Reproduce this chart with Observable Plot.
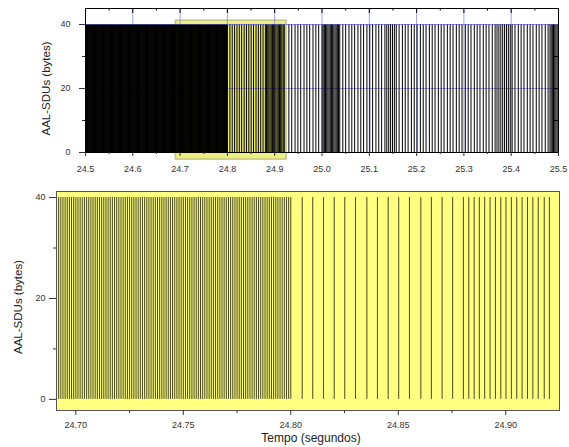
<!DOCTYPE html>
<html>
<head>
<meta charset="utf-8">
<script src="https://cdn.jsdelivr.net/npm/d3@7"></script>
<script src="https://cdn.jsdelivr.net/npm/@observablehq/plot@0.6"></script>
<style>
  html, body { margin: 0; padding: 0; background: #fff; }
  #chart { position: relative; width: 569px; height: 447px; overflow: hidden; }
  #top, #bottom { position: absolute; left: 0; }
  #top { top: 0; }
  #bottom { top: 180px; }
</style>
</head>
<body>
<div id="chart"><div id="top"></div><div id="bottom"></div></div>
<script>
// Arrival times of AAL-SDUs (milliseconds)
const tempoMs = [
24500,24501,24502,24503,24504,24505,24506,24507,24508,24509,24510,24511,24512,24513,24514,24515,24516,24517,24518,24519,
24520,24521,24522,24523,24524,24525,24526,24527,24528,24529,24530,24531,24532,24533,24534,24535,24536,24537,24538,24539,
24540,24541,24542,24543,24544,24545,24546,24547,24548,24549,24550,24551,24552,24553,24554,24555,24556,24557,24558,24559,
24560,24561,24562,24563,24564,24565,24566,24567,24568,24569,24570,24571,24572,24573,24574,24575,24576,24577,24578,24579,
24580,24581,24582,24583,24584,24585,24586,24587,24588,24589,24590,24591,24592,24593,24594,24595,24596,24597,24598,24599,
24600,24601,24602,24603,24604,24605,24606,24607,24608,24609,24610,24611,24612,24613,24614,24615,24616,24617,24618,24619,
24620,24621,24622,24623,24624,24625,24626,24627,24628,24629,24630,24631,24632,24633,24634,24635,24636,24637,24638,24639,
24640,24641,24642,24643,24644,24645,24646,24647,24648,24649,24650,24651,24652,24653,24654,24655,24656,24657,24658,24659,
24660,24661,24662,24663,24664,24665,24666,24667,24668,24669,24670,24671,24672,24673,24674,24675,24676,24677,24678,24679,
24680,24681,24682,24683,24684,24685,24686,24687,24688,24689,24690,24691,24692,24693,24694,24695,24696,24697,24698,24699,
24700,24701,24702,24703,24704,24705,24706,24707,24708,24709,24710,24711,24712,24713,24714,24715,24716,24717,24718,24719,
24720,24721,24722,24723,24724,24725,24726,24727,24728,24729,24730,24731,24732,24733,24734,24735,24736,24737,24738,24739,
24740,24741,24742,24743,24744,24745,24746,24747,24748,24749,24750,24751,24752,24753,24754,24755,24756,24757,24758,24759,
24760,24761,24762,24763,24764,24765,24766,24767,24768,24769,24770,24771,24772,24773,24774,24775,24776,24777,24778,24779,
24780,24781,24782,24783,24784,24785,24786,24787,24788,24789,24790,24791,24792,24793,24794,24795,24796,24797,24798,24799,
24800,
24805.3,24810.2,24815.2,24820.2,24825.1,24830.1,24835.4,24840.3,24845.3,24850.2,24855.2,24860.5,24865.4,24870.4,24875.3,
24880.3,24882.8,24885.3,24887.7,24890.2,24892.7,24895.2,24897.7,24900.1,24902.6,24905.1,24907.6,24910.1,24912.6,24915.1,24917.9,24920.3,
24930,24936,24943,24949,24955,24962,24968,24974,24981,24987,24993,
25000,25002.5,25005,25007.5,25010,25012.5,25015,25017.5,25020,25022.5,25025,25027.5,25030,25032.5,25035,25037.5,
25044,25050,25057,25063,25069,25076,25082,25088,25095,25101,25107,25114,25120,25126,25133,
25137,25141,25145,25149,25153,25157,
25163,25170,25176,25182,25189,25195,25201,25208,25214,25220,25227,25233,25239,25246,25252,25258,25265,25271,25277,25284,
25290,25296,25303,25309,25315,25322,25328,25334,25341,25347,25353,25360,25366,
25370,25374,25378,25382,25386,25390,25394,25398,25402,
25408,25415,25421,25427,25434,25440,25446,25453,25459,25465,25472,25478,
25482,25484.5,25487,25489.5,25492,25494.5,25497,25499.5
];
const tamanhoBytes = 40;             // every AAL-SDU is 40 bytes

// Axis extents and ticks
const topXDomain = [24.5, 25.5];
const topYDomain = [0, 45];
const topXTicks = [24.5, 24.6, 24.7, 24.8, 24.9, 25.0, 25.1, 25.2, 25.3, 25.4, 25.5];
const topXMinor = [24.55, 24.65, 24.75, 24.85, 24.95, 25.05, 25.15, 25.25, 25.35, 25.45];
const topGridX = [24.6, 24.7, 24.8, 24.9, 25.0, 25.1, 25.2, 25.3, 25.4];
const yTicks = [0, 20, 40];
const yMinor = [10, 30];
const topGridY = [20, 40];
const zoomX = [24.691, 24.925];      // zoomed window (bottom panel)
const zoomY = [-2.2, 41.2];
const bottomXTicks = [24.70, 24.75, 24.80, 24.85, 24.90];
const bottomXMinor = [24.725, 24.775, 24.825, 24.875];
const yLabel = "AAL-SDUs (bytes)";
const xLabel = "Tempo (segundos)";

const tempo = tempoMs.map(ms => ms / 1000);
const font = "Liberation Sans, Arial, Helvetica, sans-serif";

const topW = 569, topH = 180, topML = 85, topMR = 11, topMT = 8, topMB = 28;
const innerW = topW - topML - topMR, innerH = topH - topMT - topMB;

const topPlot = Plot.plot({
  width: topW, height: topH,
  marginLeft: topML, marginRight: topMR, marginTop: topMT, marginBottom: topMB,
  x: {domain: topXDomain},
  y: {domain: topYDomain},
  style: {fontFamily: font, fontSize: "9px", color: "#333", background: "transparent", overflow: "visible"},
  marks: [
    Plot.rect([0], {x1: () => zoomX[0], x2: () => zoomX[1], y1: () => zoomY[0], y2: () => zoomY[1],
      fill: "#eeee80", stroke: "#c4c488", strokeWidth: 1.5}),
    Plot.ruleX(topGridX, {x: d => d, stroke: "#7a7aec", strokeOpacity: 0.7}),
    Plot.ruleY(topGridY, {y: d => d, stroke: "#7a7aec", strokeOpacity: 0.7}),
    Plot.ruleX(tempo, {x: d => d, y1: 0, y2: tamanhoBytes, stroke: "#000", strokeWidth: 1}),
    Plot.ruleY([tamanhoBytes], {stroke: "#7a7aec", strokeOpacity: 0.5}),
    Plot.frame({stroke: "#000"}),
    // mirrored inward ticks (top and right)
    Plot.tickX(topXTicks, {x: d => d, insetBottom: innerH - 5, stroke: "#000"}),
    Plot.tickX(topXMinor, {x: d => d, insetBottom: innerH - 2.5, stroke: "#000"}),
    Plot.tickY([10, 20, 30], {y: d => d, insetLeft: innerW - 4, stroke: "#000"}),
    Plot.axisX(topXTicks, {anchor: "bottom", tickSize: 4, tickPadding: 9, tickFormat: d3.format(".1f"), label: null}),
    Plot.axisX(topXMinor, {anchor: "bottom", tickSize: 2, tickFormat: () => "", label: null}),
    Plot.axisY(yTicks, {anchor: "left", tickSize: 6, tickPadding: 9, label: null}),
    Plot.axisY(yMinor, {anchor: "left", tickSize: 3, tickFormat: () => "", label: null}),
    Plot.text([yLabel], {frameAnchor: "left", dx: -39, dy: 8, rotate: -90, fontSize: 11.5, fill: "#222", textAnchor: "middle"})
  ]
});
document.getElementById("top").appendChild(topPlot);

const botPlot = Plot.plot({
  width: 569, height: 267,
  marginLeft: 56, marginRight: 10, marginTop: 11, marginBottom: 37,
  x: {domain: zoomX},
  y: {domain: zoomY},
  style: {fontFamily: font, fontSize: "9px", color: "#333", background: "transparent", overflow: "visible"},
  marks: [
    Plot.frame({fill: "#ffff80", stroke: null}),
    Plot.ruleX(tempo, {x: d => d, y1: 0, y2: tamanhoBytes, stroke: "#2a2a14", strokeOpacity: 0.85, strokeWidth: 1, clip: true}),
    Plot.frame({stroke: "#555"}),
    Plot.axisX(bottomXTicks, {anchor: "bottom", tickSize: 5, tickPadding: 6, tickFormat: d3.format(".2f"), label: null}),
    Plot.axisX(bottomXMinor, {anchor: "bottom", tickSize: 3, tickFormat: () => "", label: null}),
    Plot.axisY(yTicks, {anchor: "left", tickSize: 7, tickPadding: 4, label: null}),
    Plot.axisY(yMinor, {anchor: "left", tickSize: 3, tickFormat: () => "", label: null}),
    Plot.text([yLabel], {frameAnchor: "left", dx: -38, dy: 6, rotate: -90, fontSize: 11.5, fill: "#222", textAnchor: "middle"}),
    Plot.text([xLabel], {frameAnchor: "bottom", dx: 3, dy: 31, fontSize: 12, fill: "#222", textAnchor: "middle"})
  ]
});
document.getElementById("bottom").appendChild(botPlot);
</script>
</body>
</html>
